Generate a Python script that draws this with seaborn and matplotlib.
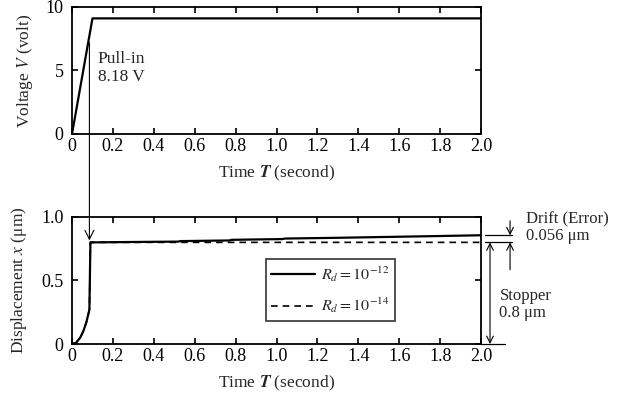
import numpy as np
import pandas as pd
import matplotlib
matplotlib.use("Agg")
import matplotlib.pyplot as plt
from matplotlib.patches import ConnectionPatch
import seaborn as sns

# datos
t_volt = [0, 0.1, 2.0]
volt = [0, 9.1, 9.1]

t_disp = [0, 0.02, 0.04, 0.055, 0.07, 0.085, 0.09, 0.1, 0.3, 0.52, 0.53, 0.77, 0.78,
          1.03, 1.04, 1.3, 1.55, 1.8, 2.0]
x_rd12 = [0, 0.01, 0.05, 0.1, 0.17, 0.27, 0.8, 0.8, 0.803, 0.806, 0.81, 0.815, 0.82,
          0.826, 0.83, 0.836, 0.843, 0.85, 0.856]
x_rd14 = [0, 0.01, 0.05, 0.1, 0.17, 0.27, 0.8, 0.8, 0.8, 0.8, 0.8, 0.8, 0.8,
          0.8, 0.8, 0.8, 0.8, 0.8, 0.8]

t_ticks = [0, 0.2, 0.4, 0.6, 0.8, 1.0, 1.2, 1.4, 1.6, 1.8, 2.0]
t_labels = ["0", "0.2", "0.4", "0.6", "0.8", "1.0", "1.2", "1.4", "1.6", "1.8", "2.0"]

pull_in_t = 0.085
drift = 0.056
stopper = 0.8

sns.set_theme(style="ticks")
plt.rcParams["font.family"] = ["Liberation Serif", "DejaVu Serif"]
plt.rcParams["mathtext.fontset"] = "stix"
plt.rcParams["xtick.direction"] = "in"
plt.rcParams["ytick.direction"] = "in"
plt.rcParams["xtick.top"] = True
plt.rcParams["ytick.right"] = True

fig = plt.figure(figsize=(6.23, 3.97), dpi=100)
ax1 = fig.add_axes([0.1156, 0.6625, 0.6565, 0.32])
ax2 = fig.add_axes([0.1156, 0.1335, 0.6565, 0.32])

df_v = pd.DataFrame({"t": t_volt, "V": volt})
sns.lineplot(data=df_v, x="t", y="V", ax=ax1, color="black", lw=1.6)

df_x = pd.DataFrame({"t": t_disp, "a": x_rd12, "b": x_rd14})
sns.lineplot(data=df_x, x="t", y="a", ax=ax2, color="black", lw=1.6,
             label=r"$R_d = 10^{-12}$")
sns.lineplot(data=df_x, x="t", y="b", ax=ax2, color="black", lw=1.2,
             linestyle=(0, (4, 3)), label=r"$R_d = 10^{-14}$")

for ax in (ax1, ax2):
    ax.set_xlim(0, 2.0)
    ax.set_xticks(t_ticks)
    ax.set_xticklabels(t_labels)
    ax.set_xlabel(r"Time $\mathbfit{T}$ (second)", fontsize=12.5, labelpad=6)
    ax.tick_params(labelsize=13, length=4, width=1.2, colors="black")
    ax.tick_params(axis="x", pad=3)
    ax.tick_params(axis="y", pad=6)
    for s in ax.spines.values():
        s.set_linewidth(1.3)
        s.set_color("black")

ax1.set_ylim(0, 10)
ax1.set_yticks([0, 5, 10])
ax1.set_ylabel(r"Voltage $V$ (volt)", fontsize=12.5, labelpad=8)
ax1.text(0.125, 6.5, "Pull-in\n8.18 V", va="top", ha="left", fontsize=12.5,
         linespacing=1.1)

ax2.set_ylim(0, 1.0)
ax2.set_yticks([0, 0.5, 1.0])
ax2.set_yticklabels(["0", "0.5", "1.0"])
ax2.set_ylabel("Displacement $x$ (μm)", fontsize=12.5, labelpad=9)

leg = ax2.legend(loc="upper left", bbox_to_anchor=(0.474, 0.669), frameon=True,
                 fancybox=False, edgecolor="black", fontsize=11.5, handlelength=2.7,
                 handletextpad=0.4, borderpad=0.35, labelspacing=0.75,
                 borderaxespad=0)
leg.get_frame().set_linewidth(1.2)

# flecha de pull-in entre los dos ejes
con = ConnectionPatch(xyA=(pull_in_t, 7.2), coordsA=ax1.transData,
                      xyB=(pull_in_t, 0.815), coordsB=ax2.transData,
                      arrowstyle="->", mutation_scale=16, color="black", lw=0.8)
fig.add_artist(con)

# anotaciones a la derecha
tr = ax2.get_yaxis_transform()
top = stopper + drift
ax2.plot([1.01, 1.076], [top, top], transform=tr, color="black", lw=0.9, clip_on=False)
ax2.plot([1.01, 1.076], [stopper, stopper], transform=tr, color="black", lw=0.9, clip_on=False)
ax2.plot([1.0, 1.059], [0, 0], transform=tr, color="black", lw=0.9, clip_on=False)
ax2.annotate("", xy=(1.071, top), xytext=(1.071, 0.97), xycoords=tr, textcoords=tr,
             arrowprops=dict(arrowstyle="->", color="black", lw=0.8, shrinkA=0, shrinkB=0))
ax2.annotate("", xy=(1.071, stopper), xytext=(1.071, 0.585), xycoords=tr, textcoords=tr,
             arrowprops=dict(arrowstyle="->", color="black", lw=0.8, shrinkA=0, shrinkB=0))
ax2.annotate("", xy=(1.022, 0), xytext=(1.022, stopper), xycoords=tr, textcoords=tr,
             arrowprops=dict(arrowstyle="<->", color="black", lw=0.8, shrinkA=0, shrinkB=0))
ax2.text(1.11, 1.045, "Drift (Error)\n0.056 μm", transform=tr, va="top", ha="left",
         fontsize=12, linespacing=1.1)
ax2.text(1.045, 0.44, "Stopper\n0.8 μm", transform=tr, va="top", ha="left",
         fontsize=12, linespacing=1.1)

plt.savefig("out.png", dpi=100)
